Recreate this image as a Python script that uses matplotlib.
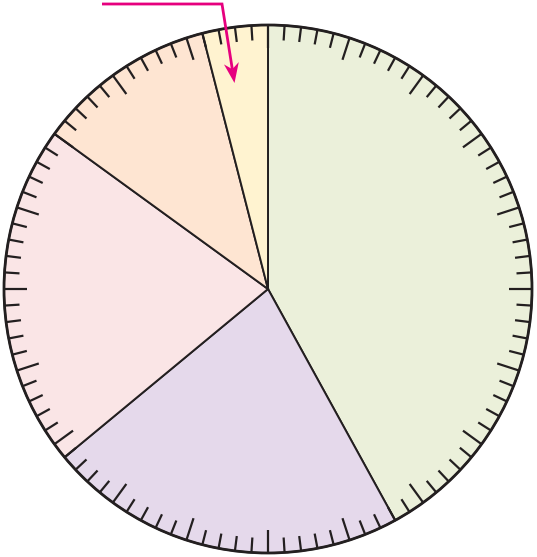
import numpy as np
import matplotlib
matplotlib.use("Agg")
import matplotlib.pyplot as plt
from matplotlib.collections import LineCollection
from matplotlib.patches import Circle, Polygon

# ── data ──────────────────────────────────────────────────────────────────
shares = [42, 22, 21, 11, 4]
slice_colors = ["#ebf0da", "#e5d9eb", "#fae5e6", "#fee5d2", "#fff3d0"]
n_ticks = 100          # one tick per percent
major_every = 5

# ── layout (pixel units) ──────────────────────────────────────────────────
W, H = 537, 557
cx, cy, R = 268, 268, 264
ink = "#231f20"
magenta = "#e6007e"

fig = plt.figure(figsize=(W / 100, H / 100), dpi=100)
ax = fig.add_axes([0, 0, 1, 1])

ax.pie(shares, colors=slice_colors, startangle=90, counterclock=False,
       center=(cx, cy), radius=R,
       wedgeprops=dict(edgecolor=ink, linewidth=1.4))

# rim ticks, long every 5 %
segs = []
for i in range(n_ticks):
    a = np.deg2rad(90 - 360 * i / n_ticks)
    ln = 23 if i % major_every == 0 else 15
    segs.append([(cx + R * np.cos(a), cy + R * np.sin(a)),
                 (cx + (R - ln) * np.cos(a), cy + (R - ln) * np.sin(a))])
ax.add_collection(LineCollection(segs, colors=ink, linewidths=1.6, zorder=3))

ax.add_patch(Circle((cx, cy), R, fill=False, edgecolor=ink, lw=2.0, zorder=4))

# pointer arrow to the small slice (barbed head drawn as a polygon)
x0, y0 = 222, H - 4
tip = np.array([234.5, H - 83])
d = tip - np.array([x0, y0])
d = d / np.hypot(*d)
n = np.array([-d[1], d[0]])
back = tip - 20 * d
notch = tip - 14 * d
head = [tip, back + 7.5 * n, notch, back - 7.5 * n]
ax.plot([102, x0, notch[0]], [y0, y0, notch[1]], color=magenta, lw=2.0,
        solid_joinstyle="miter", solid_capstyle="butt", zorder=5)
ax.add_patch(Polygon(head, closed=True, facecolor=magenta,
                     edgecolor="none", zorder=6))

ax.set_xlim(0, W)
ax.set_ylim(0, H)
ax.set_aspect("equal")
ax.axis("off")

fig.savefig("out.png", dpi=100, facecolor="white")
